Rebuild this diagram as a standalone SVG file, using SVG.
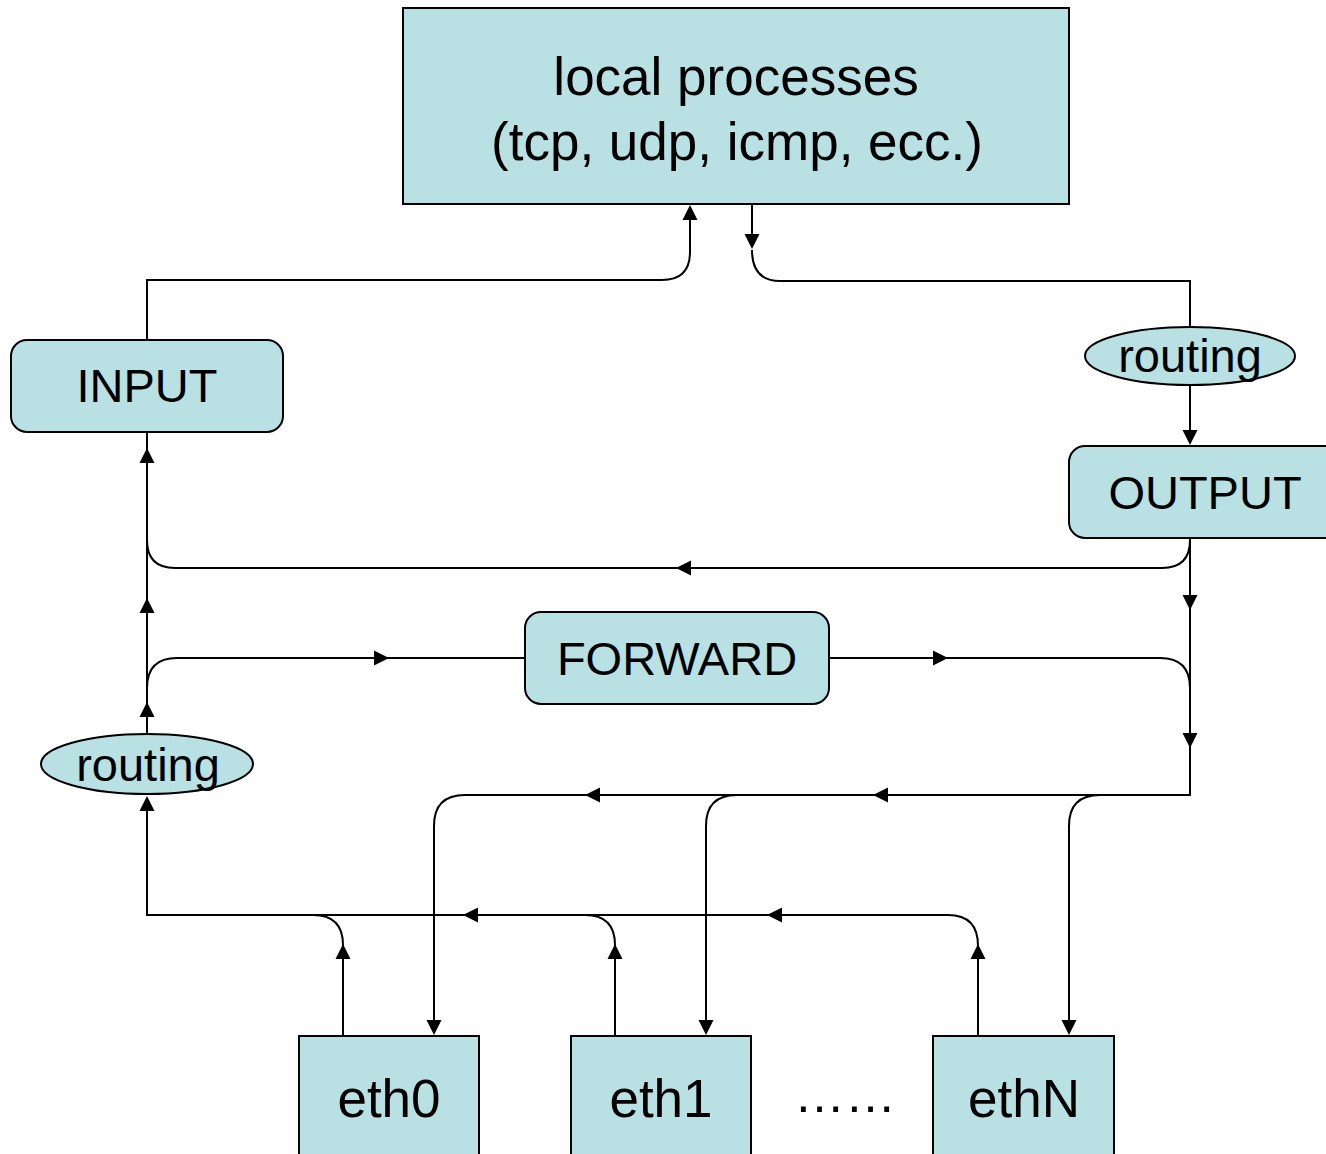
<svg xmlns="http://www.w3.org/2000/svg" xmlns:xlink="http://www.w3.org/1999/xlink" width="1326" height="1154" viewBox="0 0 1326 1154">
<style>
.box{fill:#b9e0e3;stroke:#000;stroke-width:2}
.t{font-family:"Liberation Sans",Arial,sans-serif;fill:#000;text-anchor:middle}
.ln{fill:none;stroke:#000;stroke-width:2}
.ah{fill:#000}
</style>
<defs>
<path id="ah" d="M0,0 L-15,-7.5 L-15,7.5 Z"/>
</defs>
<rect x="0" y="0" width="1326" height="1154" fill="#fff"/>

<g id="local">
<rect class="box" x="403" y="8" width="666" height="196"/>
<text class="t" x="736" y="95" font-size="53">local processes</text>
<text class="t" x="737" y="160" font-size="53">(tcp, udp, icmp, ecc.)</text>
</g>
<g id="input">
<rect class="box" x="11" y="340" width="272" height="92" rx="16"/>
<text class="t" x="147" y="402" font-size="47">INPUT</text>
</g>
<g id="routing-out">
<ellipse class="box" cx="1190" cy="356" rx="105" ry="29"/>
<text class="t" x="1190" y="372" font-size="47">routing</text>
</g>
<g id="output">
<rect class="box" x="1069" y="446" width="272" height="92" rx="16"/>
<text class="t" x="1205" y="509" font-size="47">OUTPUT</text>
</g>
<g id="forward">
<rect class="box" x="525" y="612" width="304" height="92" rx="16"/>
<text class="t" x="677" y="675" font-size="47">FORWARD</text>
</g>
<g id="routing-in">
<ellipse class="box" cx="147" cy="764" rx="106" ry="30"/>
<text class="t" x="148" y="781" font-size="47">routing</text>
</g>
<g id="eth0">
<rect class="box" x="299" y="1036" width="180" height="130"/>
<text class="t" x="389" y="1117" font-size="53">eth0</text>
</g>
<g id="eth1">
<rect class="box" x="571" y="1036" width="180" height="130"/>
<text class="t" x="661" y="1117" font-size="53">eth1</text>
</g>
<g id="dots">
<text class="t" x="845" y="1112" font-size="51">……</text>
</g>
<g id="ethN">
<rect class="box" x="933" y="1036" width="181" height="130"/>
<text class="t" x="1024" y="1117" font-size="53">ethN</text>
</g>

<g id="connectors">
<!-- INPUT -> local -->
<path class="ln" d="M147,340 V280 H662 Q690,280 690,252 V215"/>
<use class="ah" xlink:href="#ah" transform="translate(690,205) rotate(-90)"/>
<!-- local -> routing out -->
<path class="ln" d="M752,204 V238"/>
<use class="ah" xlink:href="#ah" transform="translate(752,249) rotate(90)"/>
<path class="ln" d="M752,250 Q752,281 780,281 H1190 V327"/>
<!-- routing -> OUTPUT -->
<path class="ln" d="M1190,385 V434"/>
<use class="ah" xlink:href="#ah" transform="translate(1190,445) rotate(90)"/>
<!-- OUTPUT down -->
<path class="ln" d="M1190,538 V795 H465"/>
<use class="ah" xlink:href="#ah" transform="translate(1190,610) rotate(90)"/>
<use class="ah" xlink:href="#ah" transform="translate(1190,748) rotate(90)"/>
<use class="ah" xlink:href="#ah" transform="translate(873,795) rotate(180)"/>
<use class="ah" xlink:href="#ah" transform="translate(585,795) rotate(180)"/>
<!-- OUTPUT -> INPUT -->
<path class="ln" d="M1190,540 Q1190,568 1162,568 H175 Q147,568 147,540"/>
<use class="ah" xlink:href="#ah" transform="translate(676,568) rotate(180)"/>
<!-- left vertical routing -> INPUT -->
<path class="ln" d="M147,734 V432"/>
<use class="ah" xlink:href="#ah" transform="translate(147,448) rotate(-90)"/>
<use class="ah" xlink:href="#ah" transform="translate(147,598) rotate(-90)"/>
<use class="ah" xlink:href="#ah" transform="translate(147,702) rotate(-90)"/>
<!-- forward -->
<path class="ln" d="M147,688 Q147,658 177,658 H525"/>
<use class="ah" xlink:href="#ah" transform="translate(389,658)"/>
<path class="ln" d="M829,658 H1160 Q1190,658 1190,688"/>
<use class="ah" xlink:href="#ah" transform="translate(948,658)"/>
<!-- out branches to eth -->
<path class="ln" d="M465,795 Q434,795 434,826 V1024"/>
<use class="ah" xlink:href="#ah" transform="translate(434,1035) rotate(90)"/>
<path class="ln" d="M737,795 Q706,795 706,826 V1024"/>
<use class="ah" xlink:href="#ah" transform="translate(706,1035) rotate(90)"/>
<path class="ln" d="M1100,795 Q1069,795 1069,826 V1024"/>
<use class="ah" xlink:href="#ah" transform="translate(1069,1035) rotate(90)"/>
<!-- eth in to routing -->
<path class="ln" d="M978,1036 V946 Q978,915 948,915 H147 V807"/>
<use class="ah" xlink:href="#ah" transform="translate(147,796) rotate(-90)"/>
<use class="ah" xlink:href="#ah" transform="translate(767,915) rotate(180)"/>
<use class="ah" xlink:href="#ah" transform="translate(463,915) rotate(180)"/>
<use class="ah" xlink:href="#ah" transform="translate(978,944) rotate(-90)"/>
<path class="ln" d="M343,1036 V945 Q343,915 313,915"/>
<use class="ah" xlink:href="#ah" transform="translate(343,944) rotate(-90)"/>
<path class="ln" d="M615,1036 V945 Q615,915 585,915"/>
<use class="ah" xlink:href="#ah" transform="translate(615,944) rotate(-90)"/>
</g>
</svg>
